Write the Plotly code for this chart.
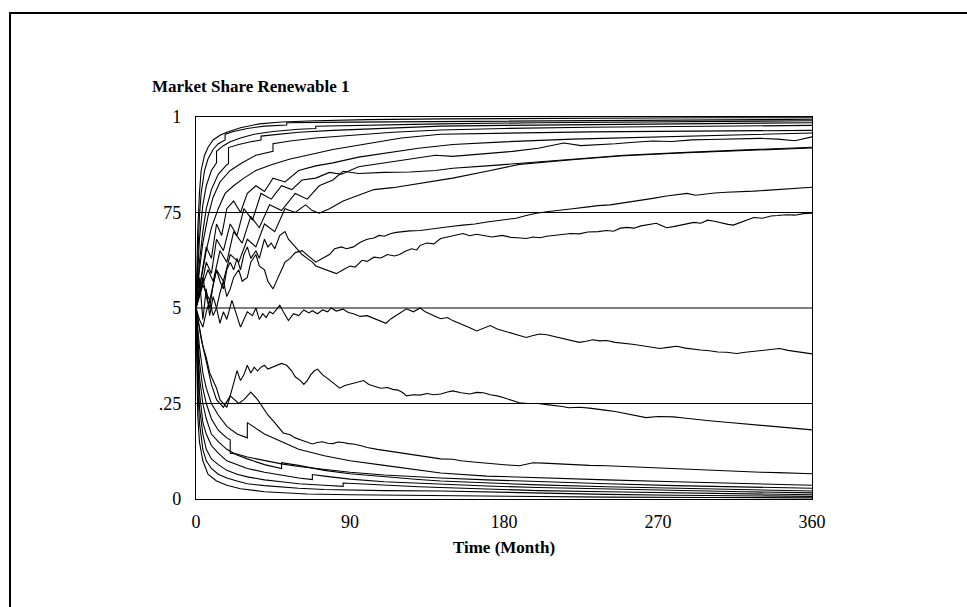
import plotly.graph_objects as go

# ---------------- data ----------------
title_text = "Market Share Renewable 1"
x_title = "Time (Month)"
x_ticks = [0, 90, 180, 270, 360]
y_tickvals = [0, 0.25, 0.5, 0.75, 1]
y_ticktext = ["0", ".25", "5", "75", "1"]
grid_levels = [0.25, 0.5, 0.75]

t_a1 = [0, 1, 2, 3, 5, 7, 10, 14, 18, 26, 37, 50, 70, 100, 143, 220, 300, 360]
v_a1 = [.5, .7, .8, .86, .9, .92, .94, .952, .96, .972, .982, .987, .99, .993, .995, .997, .998, .998]

t_a2 = [0, 1, 2, 3, 5, 7, 10, 13, 17, 17, 22, 30, 40, 53, 53, 70, 100, 143, 200, 260, 320, 360]
v_a2 = [.5, .64, .74, .8, .86, .89, .915, .93, .94, .955, .962, .97, .976, .979, .985, .986, .987, .988, .99, .992, .993, .994]

t_a3 = [0, 1, 2, 4, 6, 9, 12, 12, 16, 20, 26, 34, 45, 60, 70, 70, 90, 120, 143, 200, 260, 320, 360]
v_a3 = [.5, .6, .68, .77, .82, .86, .88, .91, .925, .935, .945, .955, .962, .968, .97, .976, .978, .98, .982, .985, .987, .989, .99]

t_a4 = [0, 2, 4, 6, 9, 13, 18, 19, 19, 25, 32, 38, 38, 48, 60, 80, 110, 143, 180, 230, 290, 360]
v_a4 = [.5, .62, .7, .76, .81, .85, .875, .878, .92, .928, .935, .94, .95, .955, .96, .965, .97, .976, .978, .98, .983, .985]

t_a5 = [0, 2, 4, 7, 10, 14, 20, 27, 35, 45, 45, 55, 70, 90, 115, 143, 180, 230, 290, 360]
v_a5 = [.5, .6, .67, .74, .79, .83, .86, .88, .9, .91, .93, .937, .945, .952, .96, .966, .97, .973, .976, .978]

t_a6 = [0, 3, 6, 9, 13, 17, 22, 28, 35, 44, 55, 65, 80, 100, 120, 143, 180, 230, 290, 360]
v_a6 = [.5, .58, .65, .71, .76, .8, .82, .84, .86, .875, .89, .9, .915, .93, .945, .955, .958, .961, .963, .965]

t_a7 = [0, 3, 6, 9, 12, 15, 18, 22, 26, 30, 35, 40, 45, 52, 60, 70, 80, 95, 110, 130, 150, 180,
        220, 260, 300, 330, 360]
v_a7 = [.5, .58, .66, .63, .72, .69, .76, .78, .75, .8, .82, .805, .84, .83, .86, .872, .88, .895, .905,
        .918, .928, .935, .942, .947, .951, .955, .958]

t_a8 = [0, 3, 6, 9, 12, 16, 20, 24, 28, 33, 38, 44, 50, 56, 62, 70, 78, 85, 95, 110, 118, 125, 132,
        140, 150, 160, 170, 185, 200, 215, 225, 235, 245, 256, 267, 278, 290, 300, 310, 320, 330, 340,
        350, 360]
v_a8 = [.5, .55, .62, .59, .68, .65, .72, .69, .76, .73, .8, .785, .82, .81, .835, .84, .855, .85, .87,
        .88, .884, .89, .893, .9, .897, .901, .905, .91, .918, .932, .925, .927, .93, .934, .937, .936,
        .94, .941, .942, .943, .944, .942, .938, .948]

t_a9 = [0, 3, 7, 10, 14, 18, 22, 27, 32, 37, 43, 50, 58, 65, 72, 80, 86, 95, 110, 125, 140, 150, 170,
        189, 220, 250, 290, 330, 360]
v_a9 = [.5, .55, .6, .57, .65, .62, .7, .67, .74, .71, .77, .755, .8, .785, .82, .835, .858, .852, .855,
        .856, .86, .866, .872, .879, .89, .9, .908, .915, .921]

t_a10 = [0, 4, 8, 12, 16, 20, 25, 30, 35, 40, 46, 52, 58, 64, 68, 72, 78, 86, 95, 104, 115, 125, 135,
         150, 170, 189, 220, 248, 280, 306, 340, 360]
v_a10 = [.5, .56, .52, .6, .57, .64, .62, .68, .66, .72, .7, .76, .75, .77, .755, .748, .76, .78, .795,
         .81, .815, .822, .83, .84, .858, .876, .888, .898, .905, .91, .915, .919]

t_a11 = [0, 2, 4, 6, 8, 10, 12, 14, 16, 18, 20, 22, 25, 27, 30, 32, 35, 37, 40, 42, 45, 47, 50, 52, 55,
         58, 62, 66, 70, 74, 78, 81, 85, 88, 92, 96, 100, 104, 107, 110, 114, 117, 120, 125, 131, 137,
         143, 150, 156, 163, 170, 176, 182, 187, 193, 199, 205, 212, 220, 228, 235, 242, 250, 258, 267,
         275, 281, 287, 292, 297, 303, 310, 318, 326, 333, 340, 345, 352, 360]
v_a11 = [.5, .47, .45, .49, .52, .48, .5, .54, .57, .53, .55, .58, .6, .57, .58, .62, .64, .61, .6, .57,
         .55, .57, .6, .62, .63, .645, .65, .635, .62, .63, .64, .655, .66, .655, .66, .672, .68, .683,
         .69, .688, .695, .698, .7, .702, .703, .707, .711, .714, .717, .72, .725, .728, .732, .735, .742,
         .748, .752, .755, .76, .764, .768, .77, .775, .78, .787, .793, .797, .8, .795, .798, .801, .803,
         .804, .806, .808, .81, .811, .813, .816]

t_a12 = [0, 2, 4, 6, 8, 10, 12, 14, 16, 18, 20, 22, 24, 26, 28, 30, 32, 35, 37, 40, 42, 44, 46, 49, 52,
         54, 56, 59, 62, 65, 68, 70, 73, 76, 79, 82, 86, 90, 93, 97, 100, 104, 108, 112, 116, 119, 122,
         126, 129, 131, 135, 139, 143, 147, 151, 156, 160, 164, 168, 173, 179, 184, 188, 193, 197, 201,
         205, 210, 214, 219, 224, 229, 235, 240, 244, 248, 252, 256, 260, 265, 269, 272, 275, 279, 283,
         287, 291, 295, 299, 303, 307, 311, 314, 318, 322, 326, 331, 336, 340, 345, 350, 355, 360]
v_a12 = [.5, .54, .58, .53, .5, .56, .6, .57, .55, .6, .62, .6, .63, .6, .64, .66, .63, .65, .63, .68,
         .66, .67, .655, .69, .7, .68, .67, .655, .64, .63, .62, .61, .605, .6, .595, .59, .6, .61, .607,
         .625, .622, .633, .631, .64, .636, .64, .648, .655, .652, .664, .67, .668, .682, .686, .69, .695,
         .689, .693, .69, .686, .69, .685, .684, .682, .686, .684, .688, .691, .693, .695, .694, .699,
         .7, .703, .701, .709, .711, .709, .715, .718, .722, .716, .71, .713, .717, .72, .724, .722, .73,
         .727, .722, .719, .717, .724, .731, .737, .735, .741, .742, .744, .743, .747, .748]

t_m = [0, 2, 4, 6, 8, 10, 12, 14, 16, 18, 21, 23, 26, 28, 30, 33, 35, 37, 39, 41, 43, 45, 47, 49, 51,
       54, 57, 60, 63, 66, 68, 71, 74, 77, 79, 82, 86, 89, 92, 96, 100, 104, 108, 111, 114, 117, 120,
       123, 127, 131, 134, 137, 140, 143, 147, 150, 154, 157, 160, 164, 168, 172, 176, 180, 185, 189,
       193, 197, 201, 205, 210, 214, 219, 224, 228, 232, 236, 240, 245, 250, 255, 260, 265, 271, 276,
       281, 286, 290, 295, 300, 305, 310, 316, 321, 326, 331, 336, 341, 346, 350, 355, 360]
v_m = [.5, .58, .47, .55, .48, .53, .5, .46, .49, .47, .52, .49, .45, .47, .49, .48, .5, .47, .485,
       .475, .49, .485, .495, .507, .49, .467, .485, .48, .495, .487, .493, .485, .495, .49, .5, .492,
       .497, .488, .485, .478, .48, .472, .465, .46, .472, .48, .49, .498, .49, .5, .49, .485, .478,
       .472, .475, .467, .46, .455, .448, .44, .448, .454, .445, .44, .435, .428, .423, .428, .432, .43,
       .425, .42, .415, .41, .413, .417, .414, .415, .41, .408, .405, .402, .398, .394, .397, .4, .395,
       .392, .39, .388, .385, .384, .381, .384, .387, .39, .392, .394, .389, .386, .383, .38]

t_l1 = [0, 2, 4, 6, 8, 10, 12, 14, 16, 18, 20, 22, 24, 26, 28, 30, 32, 34, 36, 38, 40, 42, 45, 48, 50,
        53, 56, 58, 61, 63, 65, 67, 69, 71, 74, 77, 80, 84, 87, 90, 94, 98, 101, 105, 108, 112, 115,
        118, 121, 123, 127, 131, 135, 139, 143, 147, 150, 155, 160, 164, 168, 172, 176, 180, 185, 189,
        194, 200, 205, 210, 214, 218, 224, 230, 235, 240, 245, 250, 256, 263, 270, 279, 285, 292, 300,
        310, 320, 330, 340, 350, 360]
v_l1 = [.5, .45, .4, .37, .33, .31, .29, .26, .25, .24, .27, .3, .336, .31, .325, .35, .33, .345, .335,
        .345, .35, .34, .345, .35, .355, .35, .335, .32, .31, .3, .31, .325, .335, .34, .325, .315, .305,
        .29, .297, .3, .305, .31, .3, .295, .29, .292, .287, .285, .278, .27, .273, .272, .276, .273,
        .275, .28, .283, .278, .275, .279, .278, .273, .27, .265, .258, .252, .25, .25, .247, .245, .242,
        .239, .24, .238, .234, .232, .229, .225, .22, .213, .216, .215, .212, .208, .205, .201, .197,
        .194, .19, .186, .181]

t_l2 = [0, 3, 6, 9, 12, 16, 20, 25, 28, 32, 36, 42, 46, 51, 55, 58, 61, 64, 68, 71, 74, 77, 80, 83, 86,
        89, 92, 96, 100, 106, 112, 120, 130, 137, 143, 150, 155, 162, 170, 176, 182, 189, 193, 197, 203,
        210, 220, 230, 240, 250, 258, 267, 274, 280, 290, 300, 310, 320, 330, 340, 350, 360]
v_l2 = [.5, .42, .36, .3, .26, .24, .27, .25, .26, .28, .26, .22, .2, .173, .168, .16, .155, .15, .144,
        .148, .15, .146, .145, .149, .148, .145, .144, .14, .135, .13, .126, .12, .115, .11, .105, .104,
        .1, .097, .093, .091, .089, .087, .091, .095, .094, .092, .09, .088, .087, .085, .083, .081, .08,
        .079, .077, .075, .074, .072, .07, .069, .067, .066]

t_b1 = [0, 2, 4, 6, 9, 13, 18, 24, 30, 30, 40, 50, 60, 75, 90, 110, 130, 143, 170, 200, 240, 280, 320, 360]
v_b1 = [.5, .4, .33, .29, .25, .22, .19, .17, .16, .2, .17, .15, .13, .113, .1, .088, .076, .068, .06,
        .055, .05, .045, .04, .036]

t_b2 = [0, 2, 4, 6, 9, 13, 18, 20, 20, 24, 30, 40, 50, 60, 75, 90, 110, 130, 143, 170, 200, 240, 280, 320, 360]
v_b2 = [.5, .36, .29, .25, .21, .18, .16, .155, .12, .118, .11, .1, .092, .085, .077, .07, .063, .058,
        .055, .05, .045, .04, .035, .031, .028]

t_b3 = [0, 2, 4, 6, 9, 13, 18, 24, 30, 40, 50, 50, 60, 75, 90, 110, 130, 143, 170, 200, 240, 280, 320, 360]
v_b3 = [.5, .32, .25, .21, .17, .15, .13, .115, .105, .09, .08, .095, .088, .075, .066, .058, .051,
        .047, .042, .037, .032, .028, .024, .021]

t_b4 = [0, 2, 4, 6, 9, 13, 18, 24, 30, 40, 50, 60, 68, 68, 75, 90, 110, 130, 143, 170, 200, 240, 280, 320, 360]
v_b4 = [.5, .28, .2, .17, .14, .12, .1, .09, .08, .07, .062, .055, .051, .064, .06, .052, .045, .041,
        .039, .034, .03, .026, .022, .019, .016]

t_b5 = [0, 2, 4, 6, 9, 13, 18, 24, 30, 40, 50, 60, 75, 86, 86, 110, 130, 143, 170, 200, 240, 280, 320, 360]
v_b5 = [.5, .24, .17, .13, .105, .09, .075, .065, .058, .05, .045, .04, .036, .033, .042, .036, .032,
        .03, .026, .022, .019, .016, .013, .011]

t_b6 = [0, 1, 2, 4, 6, 9, 13, 18, 24, 30, 40, 50, 60, 75, 90, 110, 143, 170, 200, 240, 280, 320, 360]
v_b6 = [.5, .3, .2, .13, .1, .08, .065, .055, .047, .04, .035, .031, .028, .025, .023, .022, .021, .018,
        .015, .012, .01, .008, .007]

t_b7 = [0, 1, 2, 4, 7, 12, 18, 26, 40, 65, 90, 130, 180, 240, 300, 360]
v_b7 = [.5, .22, .15, .1, .065, .047, .036, .027, .019, .013, .011, .009, .007, .005, .004, .003]

series = [
    (t_a1, v_a1), (t_a2, v_a2), (t_a3, v_a3), (t_a4, v_a4), (t_a5, v_a5), (t_a6, v_a6),
    (t_a7, v_a7), (t_a8, v_a8), (t_a9, v_a9), (t_a10, v_a10), (t_a11, v_a11), (t_a12, v_a12),
    (t_m, v_m), (t_l1, v_l1), (t_l2, v_l2),
    (t_b1, v_b1), (t_b2, v_b2), (t_b3, v_b3), (t_b4, v_b4), (t_b5, v_b5), (t_b6, v_b6), (t_b7, v_b7),
]

# ---------------- figure ----------------
W, H = 967, 607
ML, MR, MT, MB = 196, 155, 117, 108
PW, PH = W - ML - MR, H - MT - MB
SERIF = "Liberation Serif, Times New Roman, serif"

fig = go.Figure()
for t, v in series:
    fig.add_trace(go.Scatter(x=t, y=v, mode="lines",
                             line=dict(color="black", width=1.1),
                             showlegend=False, hoverinfo="skip"))

# horizontal reference lines
for g in grid_levels:
    fig.add_shape(type="line", xref="x", yref="y", x0=0, x1=360, y0=g, y1=g,
                  line=dict(color="black", width=1.2))


def px_to_paper_x(px):
    return (px - ML) / PW


def px_to_paper_y(py):
    return (H - MB - py) / PH


# outer frame (left and top edges visible)
fig.add_shape(type="line", xref="paper", yref="paper",
              x0=px_to_paper_x(10), x1=px_to_paper_x(10),
              y0=px_to_paper_y(12.5), y1=px_to_paper_y(610),
              line=dict(color="black", width=2))
fig.add_shape(type="line", xref="paper", yref="paper",
              x0=px_to_paper_x(9), x1=px_to_paper_x(970),
              y0=px_to_paper_y(13), y1=px_to_paper_y(13),
              line=dict(color="black", width=2))

fig.update_layout(
    width=W, height=H,
    margin=dict(l=ML, r=MR, t=MT, b=MB, pad=0),
    paper_bgcolor="white", plot_bgcolor="white",
    title=dict(text="<b>" + title_text + "</b>", xref="container", yref="container",
               x=152 / W, xanchor="left", y=1 - 86 / H, yanchor="middle",
               font=dict(family=SERIF, size=17, color="black")),
    font=dict(family=SERIF, color="black"),
)
fig.update_xaxes(range=[0, 360], tickvals=x_ticks, ticktext=[str(v) for v in x_ticks],
                 showgrid=False, zeroline=False, showline=True, mirror=True,
                 linecolor="black", linewidth=1.2, ticks="",
                 tickfont=dict(family=SERIF, size=18, color="black"),
                 ticklabelstandoff=6,
                 title=dict(text="<b>" + x_title + "</b>", standoff=10,
                            font=dict(family=SERIF, size=17, color="black")))
fig.update_yaxes(range=[0, 1], tickvals=y_tickvals, ticktext=y_ticktext,
                 showgrid=False, zeroline=False, showline=True, mirror=True,
                 linecolor="black", linewidth=1.2, ticks="",
                 tickfont=dict(family=SERIF, size=18, color="black"),
                 ticklabelstandoff=10)

# remove the default page margin so the figure sits at the window's top-left corner
fig.write_html("out.html",
               config={"displayModeBar": False, "staticPlot": True},
               post_script="document.body.style.margin='0';document.body.style.overflow='hidden';")
